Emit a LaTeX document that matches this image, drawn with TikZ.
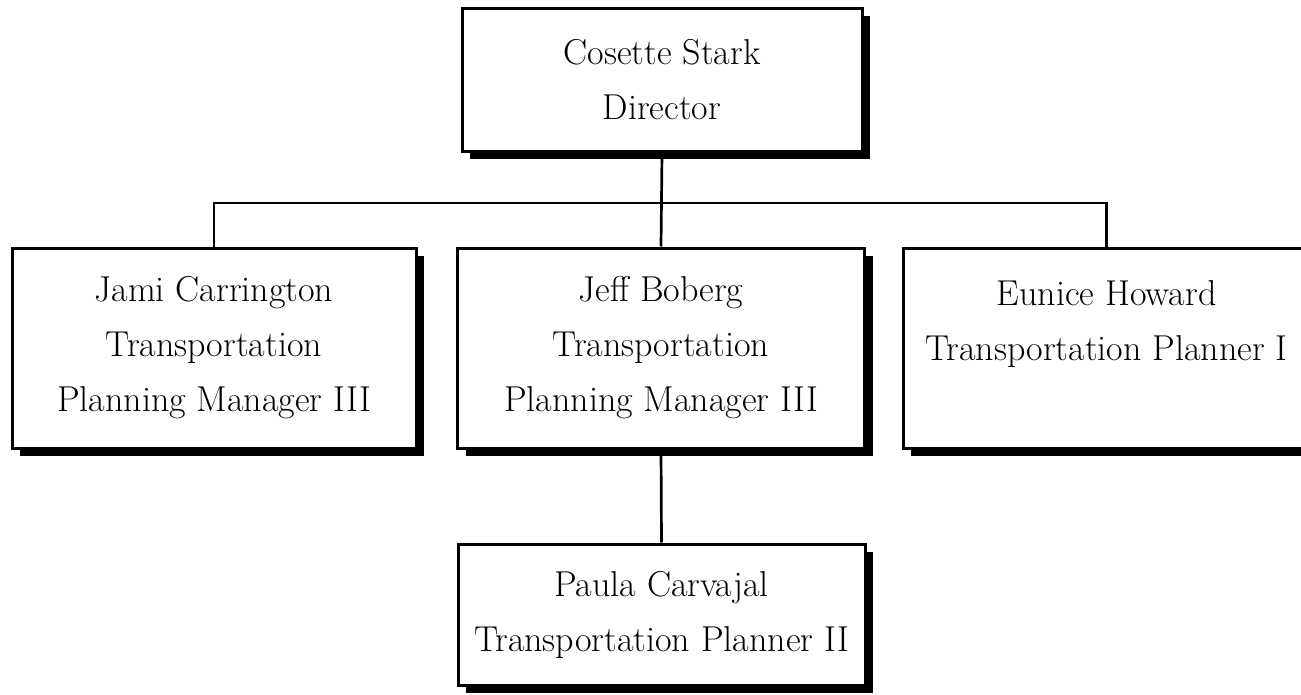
\documentclass[tikz,border=0pt]{standalone}
\usetikzlibrary{shadows}
\pgfdeclarelayer{bg}
\pgfsetlayers{bg,main}
\tikzset{
  orgbox/.style={draw, line width=3pt, fill=white, align=center, inner sep=0pt,
    font=\fontsize{36}{55}\selectfont,
    drop shadow={shadow xshift=8pt, shadow yshift=-8pt, fill=black, opacity=1}},
  conn/.style={line width=2.7pt}
}
\begin{document}
\begin{tikzpicture}[x=1pt,y=-1pt]
\useasboundingbox (0,0) rectangle (1301,695);
\node[orgbox, minimum width=400pt, minimum height=143pt] (top) at (662,80) {Cosette Stark\\Director};
\node[orgbox, minimum width=404pt, minimum height=200pt] (jami) at (214,348) {Jami Carrington\\Transportation\\Planning Manager III};
\node[orgbox, minimum width=407pt, minimum height=200pt] (jeff) at (661,348) {Jeff Boberg\\Transportation\\Planning Manager III};
\node[orgbox, minimum width=407pt, minimum height=200pt] (eunice) at (1106.5,348) {Eunice Howard\\Transportation Planner I\\\mbox{}};
\node[orgbox, minimum width=407pt, minimum height=141pt] (paula) at (661.5,614.5) {Paula Carvajal\\Transportation Planner II};
\coordinate (busL) at (jami.north |- 0,203);
\coordinate (busR) at (eunice.north |- 0,203);
\begin{pgfonlayer}{bg}
\draw[conn] (jami.north) -- (busL) -- (busR) -- (eunice.north);
\draw[conn] (top.south) -- (jeff.north);
\draw[conn] (jeff.south) -- (paula.north);
\end{pgfonlayer}
\end{tikzpicture}
\end{document}
